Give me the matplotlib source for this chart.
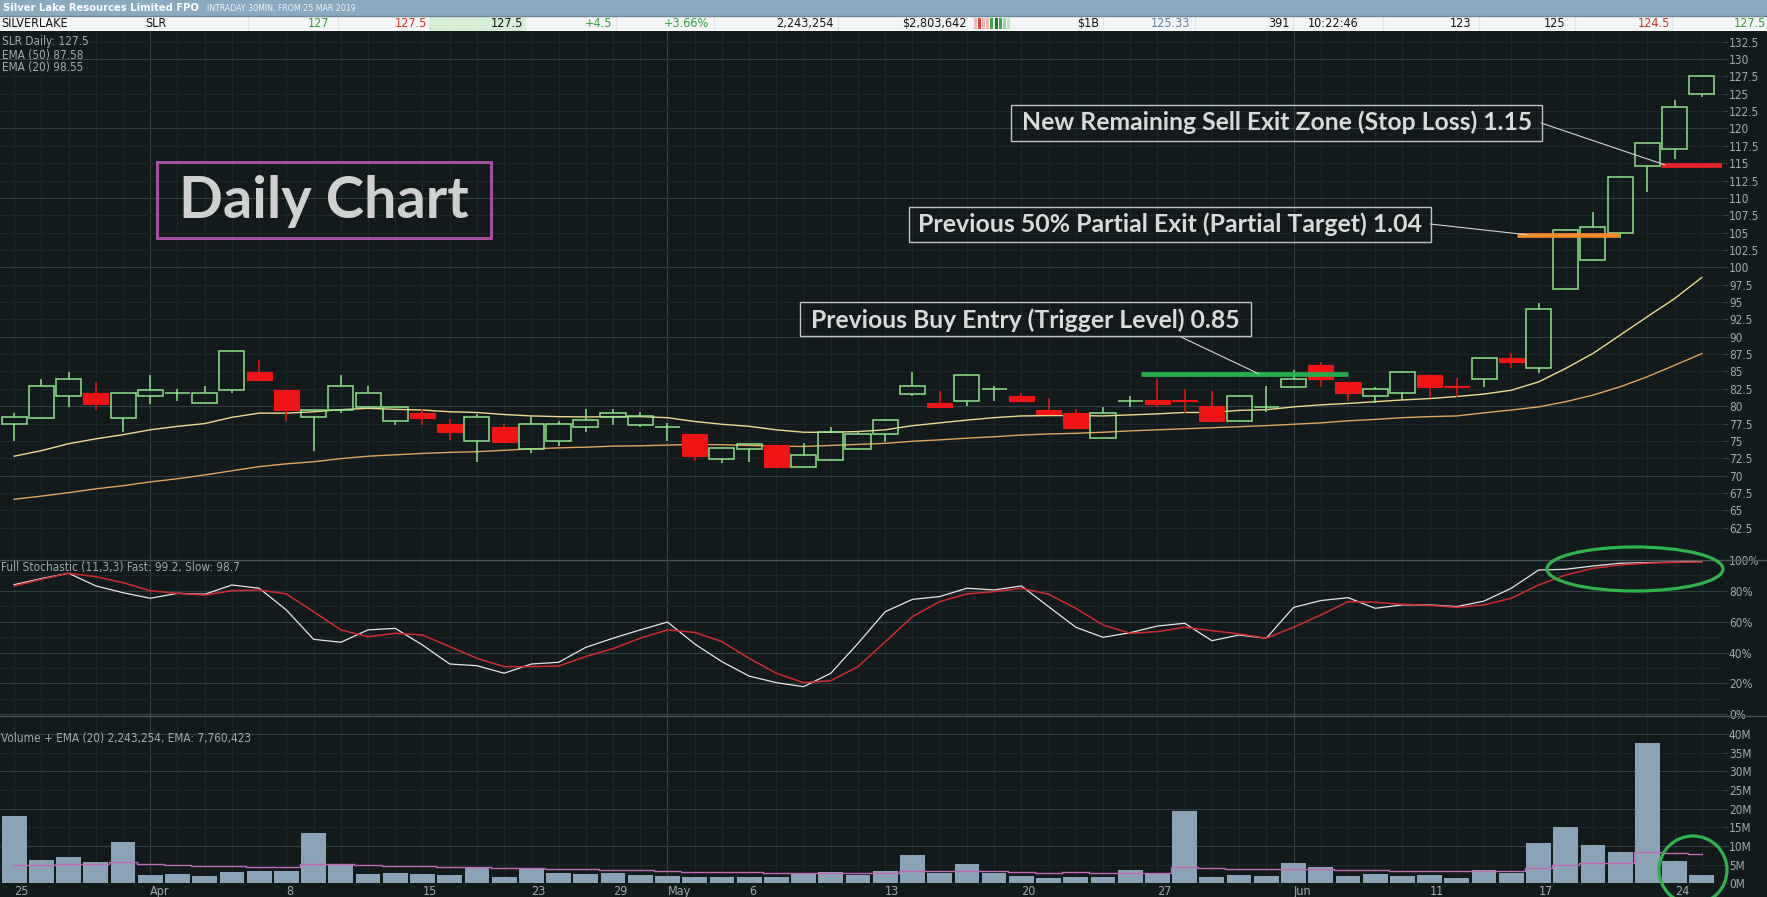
import matplotlib
matplotlib.use("Agg")
import matplotlib.pyplot as plt
from matplotlib import font_manager
from matplotlib.patches import Rectangle, Ellipse

W, H = 1767, 897

# ---- data ----
date_pos = [0, 5, 10, 15, 19, 22, 24, 27, 32, 37, 42, 47, 52, 56, 61]
date_labels = ["25", "Apr", "8", "15", "23", "29", "May", "6", "13", "20",
               "27", "Jun", "11", "17", "24"]
month_pos = [5, 24, 47]

opens = [77.4, 78.35, 81.4, 81.9, 78.35, 81.4, 81.9, 80.4, 82.4, 84.9,
         82.4, 78.4, 79.5, 79.9, 77.9, 79.0, 77.4, 74.95, 77.0, 73.85,
         74.95, 76.95, 78.4, 77.35, 76.95, 76.0, 72.35, 73.9, 74.4, 71.3,
         72.25, 73.9, 75.95, 81.8, 80.5, 80.8, 82.45, 81.45, 79.45, 79.0,
         75.4, 80.8, 80.9, 80.9, 80.05, 77.9, 79.95, 82.8, 86.0, 83.5,
         81.45, 81.85, 84.5, 82.85, 83.9, 86.9, 85.45, 96.95, 101.05, 104.9,
         114.6, 117.05, 125.0]
highs = [79.0, 83.9, 84.9, 83.5, 81.9, 84.5, 82.5, 82.9, 87.9, 86.7,
         82.4, 79.5, 84.5, 82.9, 79.9, 79.55, 78.1, 78.9, 77.45, 78.4,
         77.8, 79.55, 79.55, 79.1, 77.55, 76.0, 73.95, 74.5, 74.4, 74.65,
         76.95, 76.35, 78.1, 84.9, 82.25, 84.45, 82.9, 81.95, 81.2, 79.55,
         79.95, 81.5, 83.95, 82.5, 82.25, 81.45, 82.95, 85.2, 86.3, 83.5,
         82.8, 84.9, 84.5, 84.0, 86.9, 87.6, 94.9, 105.45, 108.0, 112.95,
         117.95, 124.1, 127.5]
lows = [75.0, 78.35, 79.9, 79.4, 76.3, 80.3, 80.8, 80.4, 81.9, 83.8,
        77.9, 73.6, 79.0, 79.9, 77.35, 77.3, 75.2, 71.9, 74.9, 73.3,
        74.3, 76.3, 77.3, 76.95, 75.05, 72.15, 71.85, 72.0, 71.3, 71.3,
        72.25, 73.9, 74.9, 81.4, 79.95, 80.05, 80.8, 80.8, 78.9, 76.9,
        75.4, 79.95, 79.95, 79.05, 77.9, 77.9, 79.2, 82.8, 82.7, 80.8,
        80.5, 80.9, 81.15, 81.35, 82.8, 85.45, 84.85, 96.95, 101.05, 104.2,
        110.9, 115.55, 124.5]
closes = [78.4, 82.9, 83.9, 80.3, 81.9, 82.4, 81.9, 81.9, 87.9, 83.8,
          79.4, 79.4, 82.9, 81.9, 79.9, 78.3, 76.3, 78.4, 74.9, 77.4,
          77.4, 78.0, 79.0, 78.6, 76.95, 72.85, 73.95, 74.5, 71.3, 72.95,
          76.35, 75.95, 78.0, 82.9, 79.95, 84.45, 82.45, 80.8, 78.9, 76.9,
          79.0, 80.8, 80.3, 80.8, 77.9, 81.45, 79.95, 83.9, 83.9, 81.85,
          82.45, 84.9, 82.8, 82.8, 86.9, 86.4, 93.95, 105.45, 105.85, 112.95,
          117.95, 123.05, 127.5]

ema20 = [72.8, 73.6, 74.6, 75.3, 75.9, 76.6, 77.1, 77.5, 78.4, 79.0,
         79.0, 79.2, 79.5, 79.7, 79.55, 79.45, 79.2, 79.1, 78.8, 78.6,
         78.5, 78.45, 78.5, 78.5, 78.35, 77.8, 77.4, 77.1, 76.6, 76.25,
         76.25, 76.35, 76.6, 77.2, 77.6, 78.0, 78.35, 78.6, 78.65, 78.65,
         78.6, 78.75, 78.9, 79.1, 79.1, 79.4, 79.5, 79.9, 80.2, 80.4,
         80.65, 80.9, 81.1, 81.4, 81.75, 82.3, 83.5, 85.45, 87.6, 90.25,
         92.9, 95.5, 98.55]
ema50 = [66.6, 67.05, 67.55, 68.1, 68.55, 69.1, 69.55, 70.1, 70.7, 71.3,
         71.7, 72.0, 72.45, 72.8, 73.0, 73.2, 73.35, 73.45, 73.65, 73.85,
         74.0, 74.1, 74.25, 74.3, 74.4, 74.5, 74.45, 74.35, 74.25, 74.2,
         74.35, 74.5, 74.65, 74.95, 75.15, 75.4, 75.6, 75.85, 76.0, 76.1,
         76.25, 76.45, 76.6, 76.75, 76.9, 77.05, 77.2, 77.4, 77.6, 77.9,
         78.1, 78.35, 78.5, 78.6, 79.05, 79.45, 79.9, 80.65, 81.6, 82.8,
         84.25, 85.9, 87.58]

stoch_fast = [84.0, 88.0, 91.4, 83.2, 78.8, 75.2, 78.4, 77.8, 83.8, 81.7,
              67.6, 48.6, 46.7, 54.7, 55.7, 44.9, 32.6, 31.5, 26.6, 32.6,
              33.7, 43.4, 49.3, 54.7, 59.8, 45.6, 34.1, 24.8, 20.5, 17.9,
              26.6, 46.0, 66.5, 74.5, 76.3, 81.7, 80.6, 83.2, 69.8, 56.4,
              49.9, 52.9, 57.2, 59.0, 47.7, 51.4, 49.3, 69.3, 73.7, 75.6,
              68.7, 70.9, 70.9, 69.8, 73.4, 81.7, 93.5, 94.0, 96.1, 97.9,
              98.3, 98.7, 99.2]
stoch_slow = [83.2, 87.5, 91.4, 89.2, 85.3, 80.1, 78.4, 77.3, 80.1, 80.6,
              78.0, 66.5, 54.7, 50.3, 52.5, 51.4, 43.9, 36.3, 30.9, 30.9,
              31.3, 37.4, 42.6, 49.3, 54.7, 53.1, 47.1, 36.3, 26.6, 20.5,
              21.8, 30.9, 47.0, 63.3, 73.0, 78.0, 79.5, 81.7, 77.8, 68.7,
              57.9, 52.5, 53.6, 56.4, 54.2, 52.1, 49.3, 56.4, 64.4, 73.0,
              72.6, 71.3, 70.6, 69.3, 70.9, 75.2, 83.8, 90.3, 94.6, 96.8,
              97.9, 98.5, 98.7]

volume_m = [18.05, 6.26, 7.15, 5.72, 11.08, 2.24, 2.51, 1.98, 3.05, 3.31,
            3.31, 13.49, 5.19, 2.51, 2.78, 2.51, 2.24, 4.30, 1.71, 4.12,
            2.78, 2.51, 2.78, 2.24, 1.98, 1.71, 1.71, 1.71, 1.71, 2.51,
            3.05, 2.24, 3.31, 7.6, 2.87, 5.19, 2.87, 2.07, 1.53, 1.8,
            1.8, 3.58, 2.6, 19.38, 1.8, 2.33, 2.07, 5.46, 4.38, 2.07,
            2.6, 2.07, 2.33, 1.44, 3.58, 2.87, 10.81, 15.1, 10.28, 8.4,
            37.6, 6.0, 2.24]
vol_ema_m = [4.83, 4.95, 5.1, 5.15, 5.6, 5.3, 5.0, 4.7, 4.55, 4.45,
             4.35, 5.2, 5.2, 4.95, 4.75, 4.55, 4.3, 4.3, 4.05, 4.05,
             3.9, 3.75, 3.6, 3.45, 3.3, 3.15, 3.0, 2.9, 2.8, 2.75,
             2.8, 2.75, 2.87, 3.4, 3.4, 3.4, 3.4, 3.1, 2.87, 2.9,
             2.7, 2.87, 2.7, 4.47, 4.1, 3.93, 3.85, 3.93, 3.85, 3.67,
             3.58, 3.4, 3.3, 3.22, 3.3, 3.4, 4.03, 4.9, 5.36, 5.54,
             8.5, 8.2, 7.76]

price_ticks = [62.5, 65, 67.5, 70, 72.5, 75, 77.5, 80, 82.5, 85, 87.5, 90,
               92.5, 95, 97.5, 100, 102.5, 105, 107.5, 110, 112.5, 115,
               117.5, 120, 122.5, 125, 127.5, 130, 132.5]
stoch_ticks = [0, 20, 40, 60, 80, 100]
vol_ticks = [0, 5, 10, 15, 20, 25, 30, 35, 40]

# trade levels: label, price, start bar, end bar, colour
levels = [("Previous Buy Entry (Trigger Level) 0.85", 84.65, 41.4, 49.0, "#27ae4c"),
          ("Previous 50% Partial Exit (Partial Target) 1.04", 104.7, 55.2, 58.95, "#f28a2e"),
          ("New Remaining Sell Exit Zone (Stop Loss) 1.15", 114.75, 60.5, 63.0, "#e8242a")]

header_cells = [("SILVERLAKE", 1, "left", "#111111"), ("SLR", 145, "left", "#111111"),
                ("127", 329, "right", "#2e9e3c"), ("127.5", 427, "right", "#c0392b"),
                ("127.5", 523, "right", "#111111"), ("+4.5", 612, "right", "#2e9e3c"),
                ("+3.66%", 709, "right", "#2e9e3c"), ("2,243,254", 834, "right", "#111111"),
                ("$2,803,642", 967, "right", "#111111"), ("$1B", 1099, "right", "#111111"),
                ("125.33", 1190, "right", "#5d7d9c"), ("391", 1289, "right", "#111111"),
                ("10:22:46", 1359, "right", "#111111"), ("123", 1471, "right", "#111111"),
                ("125", 1565, "right", "#111111"), ("124.5", 1670, "right", "#c0392b"),
                ("127.5", 1766, "right", "#2e9e3c")]
header_seps = [248, 338, 429, 525, 616, 714, 838, 1103, 1195, 1293, 1383, 1479, 1575, 1672]
depth_colors = ["#f2b8b8", "#d94848", "#f2b8b8", "#f2b8b8", "#3aa84a",
                "#1d7a2c", "#3aa84a", "#9ad6a0", "#b8e3bc"]

# ---- style ----
names = {f.name for f in font_manager.fontManager.ttflist}
bold_font = "Lato" if "Lato" in names else "DejaVu Sans"
if "Liberation Sans Narrow" in names:
    plt.rcParams["font.family"] = "Liberation Sans Narrow"
else:
    plt.rcParams["font.family"] = "DejaVu Sans"
    plt.rcParams["font.stretch"] = "condensed"

BG = "#121a1c"
GRID_MAJ = "#353f42"
GRID_MIN = "#1c2528"
LABEL = "#a3abae"
UP = "#8fe48a"
DOWN = "#f01414"
n = len(closes)

fig = plt.figure(figsize=(W / 100, H / 100), dpi=100, facecolor=BG)
renderer = fig.canvas.get_renderer()


def px_rect(x0, y0, x1, y1):
    return [x0 / W, 1 - y1 / H, (x1 - x0) / W, (y1 - y0) / H]


def ftext(x, y, s, **kw):
    return fig.text(x / W, 1 - y / H, s, **kw)


def fit_width(t, width):
    bb = t.get_window_extent(renderer=renderer)
    t.set_fontsize(t.get_fontsize() * width / bb.width)
    return t


ax_p = fig.add_axes(px_rect(0, 31, 1722, 560))
ax_s = fig.add_axes(px_rect(0, 560, 1722, 716), sharex=ax_p)
ax_v = fig.add_axes(px_rect(0, 716, 1722, 883.3), sharex=ax_p)

for ax in (ax_p, ax_s, ax_v):
    ax.set_facecolor(BG)
    for s in ax.spines.values():
        s.set_visible(False)
    ax.yaxis.tick_right()
    ax.tick_params(axis="y", direction="out", length=4, width=0.8, color=GRID_MAJ,
                   labelcolor=LABEL, labelsize=8.5, pad=1)
    ax.tick_params(axis="x", length=0)
    for i in range(n):
        ax.axvline(i, color=GRID_MIN, lw=0.8, zorder=0)
    for m in month_pos:
        ax.axvline(m, color=GRID_MAJ, lw=0.9, zorder=0)
ax_p.set_xlim(-0.52, 62.74)
ax_p.tick_params(labelbottom=False)
ax_s.tick_params(labelbottom=False)

# ---- price panel ----
ax_p.set_ylim(57.85, 134.04)
ax_p.set_yticks(price_ticks, [f"{v:g}" for v in price_ticks])
for v in price_ticks:
    ax_p.axhline(v, color=GRID_MAJ if v % 10 == 0 else GRID_MIN, lw=0.8, zorder=0)

ax_p.plot(range(n), ema50, color="#e3a35a", lw=1.0, zorder=2)
ax_p.plot(range(n), ema20, color="#ecdb8c", lw=1.0, zorder=2)

bw = 0.92
for i in range(n):
    o, h, l, c = opens[i], highs[i], lows[i], closes[i]
    lo, hi = min(o, c), max(o, c)
    if c >= o:
        col = UP
        ax_p.add_patch(Rectangle((i - bw / 2, lo), bw, hi - lo, fill=False,
                                 ec=col, lw=1.1, zorder=3))
    else:
        col = DOWN
        ax_p.add_patch(Rectangle((i - bw / 2, lo), bw, max(hi - lo, 0.15),
                                 fc=col, ec=col, lw=0.8, zorder=3))
    ax_p.vlines(i, l, lo, color=col, lw=1.1, zorder=3)
    ax_p.vlines(i, hi, h, color=col, lw=1.1, zorder=3)

for label, price, x0, x1, col in levels:
    ax_p.hlines(price, x0, x1, color=col, lw=3.4, zorder=4)

ftext(2, 41.7, "SLR Daily: 127.5", color=LABEL, fontsize=8.5, va="center")
ftext(2, 55, "EMA (50) 87.58", color=LABEL, fontsize=8.5, va="center")
ftext(2, 67, "EMA (20) 98.55", color=LABEL, fontsize=8.5, va="center")

# ---- stochastic panel ----
ax_s.set_ylim(-1.1, 100)
ax_s.set_yticks(stoch_ticks, [f"{v}%" for v in stoch_ticks])
for v in range(0, 101, 10):
    ax_s.axhline(v, color=GRID_MAJ if v % 20 == 0 else GRID_MIN, lw=0.8, zorder=0)
ax_s.plot(range(n), stoch_fast, color="#e6e6e6", lw=0.9, zorder=3)
ax_s.plot(range(n), stoch_slow, color="#d42a2e", lw=1.1, zorder=3)
ftext(1, 568, "Full Stochastic (11,3,3) Fast: 99.2, Slow: 98.7", color=LABEL,
      fontsize=8.5, va="center")

# ---- volume panel ----
ax_v.set_ylim(0, 44.82)
ax_v.set_yticks(vol_ticks, [f"{v}M" for v in vol_ticks])
for v in vol_ticks:
    ax_v.axhline(v, color=GRID_MAJ if v % 10 == 0 else GRID_MIN, lw=0.8, zorder=0)
ax_v.bar(range(n), volume_m, width=0.91, color="#8aa3b6", zorder=2)
ax_v.step(range(n), vol_ema_m, where="mid", color="#c468b4", lw=1.0, zorder=3)
ftext(1, 738, "Volume + EMA (20) 2,243,254, EMA: 7,760,423", color=LABEL,
      fontsize=8.5, va="center")
ax_v.set_xticks(date_pos, date_labels)
ax_v.tick_params(axis="x", labelsize=9, labelcolor=LABEL, pad=1.5)
plt.setp(ax_v.get_xticklabels(), ha="left")

# panel separators
for y in (560, 716):
    fig.add_artist(plt.Line2D([0, 1], [1 - y / H, 1 - y / H], color="#4a5457",
                              lw=0.9, transform=fig.transFigure))

# ---- header ----
fig.add_artist(Rectangle((0, 1 - 16 / H), 1, 16 / H, transform=fig.transFigure,
                         fc="#8aaac0", ec="none"))
fig.add_artist(Rectangle((0, 1 - 31 / H), 1, 15 / H, transform=fig.transFigure,
                         fc="#f3f5f6", ec="none"))
fig.add_artist(Rectangle((429 / W, 1 - 31 / H), 96 / W, 15 / H, transform=fig.transFigure,
                         fc="#d5eed6", ec="none"))
for sx in header_seps:
    fig.add_artist(plt.Line2D([sx / W, sx / W], [1 - 30 / H, 1 - 17 / H], color="#dfe4e7",
                              lw=0.8, transform=fig.transFigure))
fig.add_artist(plt.Line2D([0, 1], [1 - 16 / H, 1 - 16 / H], color="#6e8799", lw=1,
                          transform=fig.transFigure))
t = ftext(3, 8, "Silver Lake Resources Limited FPO", color="white", fontsize=10,
          fontweight="bold", va="center")
fit_width(t, 196)
t = ftext(207, 8.5, "INTRADAY 30MIN, FROM 25 MAR 2019", color="#eef3f6", fontsize=6.3,
          va="center")
fit_width(t, 150)
for txt, x, ha, col in header_cells:
    ftext(x, 23.5, txt, color=col, fontsize=9, ha=ha, va="center")
for k, col in enumerate(depth_colors):
    fig.add_artist(Rectangle(((974 + k * 4.1) / W, 1 - 29 / H), 3 / W, 11 / H,
                             transform=fig.transFigure, fc=col, ec="none"))

# ---- annotations ----
def fit_text(cx, y, s, width, **kw):
    t = ftext(cx, y, s, ha="center", va="baseline", **kw)
    return fit_width(t, width)


def box(x0, y0, x1, y1, ec, lw):
    fig.add_artist(Rectangle((x0 / W, 1 - y1 / H), (x1 - x0) / W, (y1 - y0) / H,
                             transform=fig.transFigure, fill=False, ec=ec, lw=lw, zorder=5))


box(157, 162, 491, 238, "#a24fa2", 2.2)
fit_text(324, 218, "Daily Chart", 290, color="#cfd0d0", fontsize=40,
         fontweight="bold", family=bold_font, fontstretch="normal", zorder=6)

ann_boxes = [(800, 302, 1251, 336, 1025, 328.5, 432, (1181, 337), 45.73),
             (909, 207, 1431, 242, 1170, 231.5, 504, (1430, 224), 55.57),
             (1011, 105, 1542, 141, 1277, 130, 513, (1541, 123), 60.65)]
for (label, price, x0, x1, col), (bx0, by0, bx1, by1, cx, base, tw, start, endx) in zip(levels, ann_boxes):
    box(bx0, by0, bx1, by1, "#bfc3c4", 1.0)
    fit_text(cx, base, label, tw, color="#d9dada", fontsize=16, fontweight="bold",
             family=bold_font, fontstretch="normal", zorder=6)
    ax_p.annotate("", xy=(endx, price), xycoords="data",
                  xytext=(start[0] / W, 1 - start[1] / H), textcoords="figure fraction",
                  arrowprops=dict(arrowstyle="-", color="#d0d3d4", lw=0.8,
                                  shrinkA=0, shrinkB=0), zorder=5)

# green highlight circles
fig.add_artist(Ellipse((1635 / W, 1 - 569 / H), 176 / W, 44 / H, transform=fig.transFigure,
                       fill=False, ec="#2fb34c", lw=2.3, zorder=7))
fig.add_artist(Ellipse((1693 / W, 1 - 870 / H), 68 / W, 68 / H, transform=fig.transFigure,
                       fill=False, ec="#2fb34c", lw=2.3, zorder=7))

fig.savefig("out.png", dpi=100, facecolor=BG)
